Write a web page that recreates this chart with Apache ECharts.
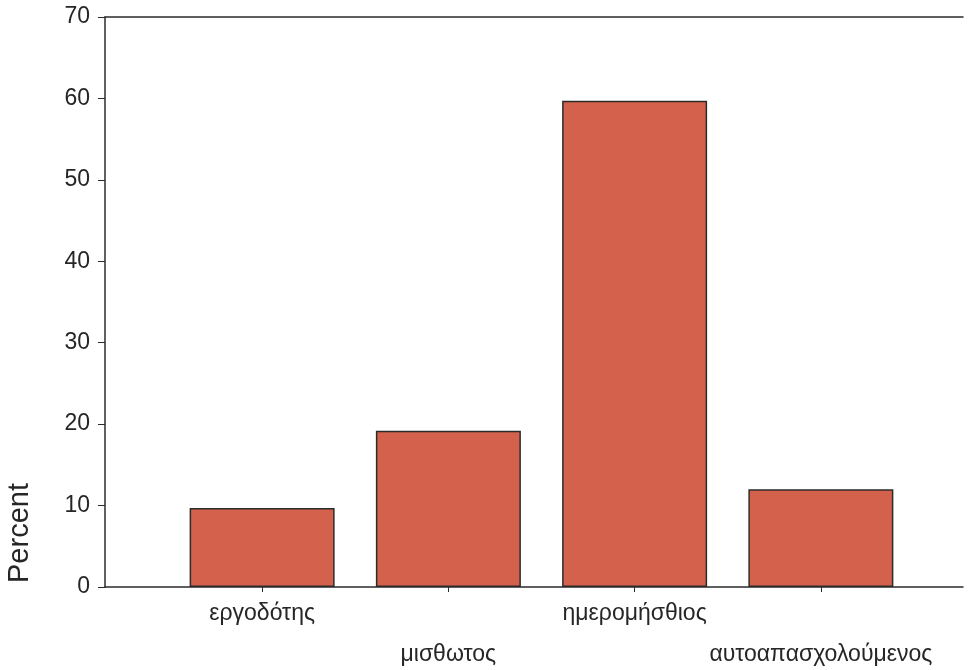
<!DOCTYPE html>
<html>
<head>
<meta charset="utf-8">
<script src="https://cdn.jsdelivr.net/npm/echarts@6/dist/echarts.min.js"></script>
<style>
  html, body { margin: 0; padding: 0; background: #fff; }
  #chart { width: 969px; height: 670px; }
</style>
</head>
<body>
<div id="chart"></div>
<script>
// chart data
const categories = ['εργοδότης', 'μισθωτος', 'ημερομήσθιος', 'αυτοαπασχολούμενος']
const percentValues = [9.7, 19.2, 59.7, 12.0]
const yTicks = [0, 10, 20, 30, 40, 50, 60, 70]

const axisColor = '#2b2b2b'
const textColor = '#262626'
const font = 'Liberation Sans, Arial, sans-serif'

const chart = echarts.init(document.getElementById('chart'))

chart.setOption({
  backgroundColor: '#fff',
  animation: false,
  grid: [
    { left: 105, right: 6, top: 17, bottom: 83, outerBoundsMode: 'none' },
    { left: 169, right: 55, top: 17, bottom: 83, outerBoundsMode: 'none' }
  ],
  xAxis: [
    {
      // bottom frame line
      gridIndex: 0, type: 'value', position: 'bottom', min: 0, max: 1,
      axisLine: { show: true, lineStyle: { color: axisColor, width: 1.5 } },
      axisTick: { show: false }, axisLabel: { show: false }, splitLine: { show: false }
    },
    {
      // top frame line
      gridIndex: 0, type: 'value', position: 'top', min: 0, max: 1,
      axisLine: { show: true, lineStyle: { color: axisColor, width: 1.5 } },
      axisTick: { show: false }, axisLabel: { show: false }, splitLine: { show: false }
    },
    {
      gridIndex: 1, type: 'category', data: categories,
      axisLine: { show: false },
      axisTick: { show: true, alignWithLabel: true, length: 5, lineStyle: { color: axisColor } },
      axisLabel: {
        interval: 0,
        margin: 6,
        color: textColor,
        fontFamily: font,
        fontSize: 23,
        lineHeight: 41,
        formatter: (v, i) => (i % 2 ? '\n' + v : v)
      }
    }
  ],
  yAxis: [
    {
      gridIndex: 0, type: 'value', min: 0, max: 70, interval: 10,
      axisLine: { show: true, lineStyle: { color: axisColor, width: 1.5 } },
      axisTick: { show: true, length: 7, lineStyle: { color: axisColor } },
      axisLabel: {
        margin: 15, color: textColor, fontFamily: font, fontSize: 23,
        formatter: v => (yTicks.includes(v) ? String(v) : '')
      },
      splitLine: { show: false }
    },
    {
      gridIndex: 1, type: 'value', min: 0, max: 70, interval: 10, show: false
    }
  ],
  graphic: [{
    type: 'text',
    x: 5,
    y: 533,
    rotation: Math.PI / 2,
    style: {
      text: 'Percent',
      font: '29px ' + font,
      fill: textColor,
      textAlign: 'center',
      textVerticalAlign: 'top'
    }
  }],
  series: [{
    type: 'bar',
    xAxisIndex: 2,
    yAxisIndex: 1,
    data: percentValues,
    barWidth: 145,
    itemStyle: {
      color: '#d3614b',
      borderColor: '#2b2b2b',
      borderWidth: 1.5
    }
  }]
})
</script>
</body>
</html>
